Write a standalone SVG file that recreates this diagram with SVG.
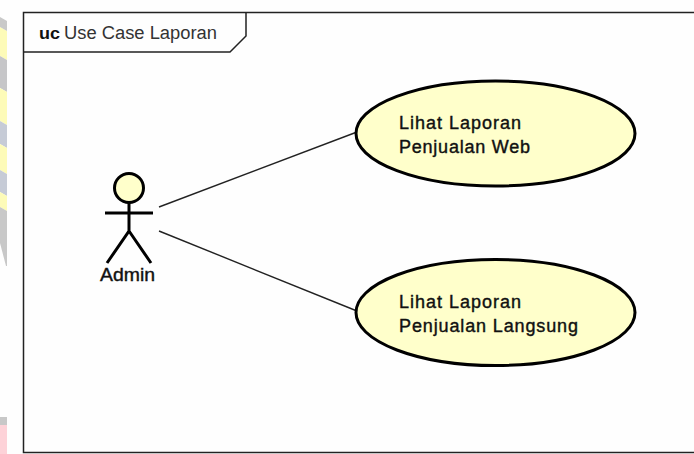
<svg xmlns="http://www.w3.org/2000/svg" width="694" height="454" viewBox="0 0 694 454">
<style>
.t{font-family:"Liberation Sans",Arial,sans-serif;font-size:18px;fill:#111;stroke:#111;stroke-width:.4px}
.n{fill:#ffffcb;stroke:#000;stroke-width:3}
.s{fill:none;stroke:#000;stroke-width:3}
.c{fill:none;stroke:#222;stroke-width:1.4}
.f{fill:none;stroke:#222;stroke-width:1.5}
</style>
<rect width="694" height="454" fill="#fefefe"/>
<g id="watermark">
<polygon points="0,27 7,31 7,60 0,56" fill="#fdfbb8"/>
<polygon points="0,17 7,21 7,31 0,27" fill="#c9c9c9"/>
<polygon points="0,56 7,60 7,92 0,88" fill="#c6c6c8"/>
<polygon points="0,88 7,92 7,125 0,121" fill="#fdfbb8"/>
<polygon points="0,121 7,125 7,148 0,144" fill="#c6cbd6"/>
<polygon points="0,144 7,148 7,174 0,170" fill="#fdfbb8"/>
<polygon points="0,170 7,174 7,196 0,192" fill="#c6cbd6"/>
<polygon points="0,192 7,196 7,211 0,207" fill="#fdfbb8"/>
<polygon points="0,207 7,211 7,266 6,266 0,243" fill="#c8c8c8"/>
<rect x="0" y="425" width="7" height="29" fill="#fdd2d8"/>
<rect x="0" y="417" width="7" height="8" fill="#c8c8c8"/>
</g>
<g id="frame">
<path class="f" d="M694 12.5H23.5V452.5H694"/>
<path class="f" d="M23.5 52H230L246 36V12.5"/>
<text x="39" y="39" font-family="Liberation Sans, Arial, sans-serif" font-size="16" font-weight="bold" fill="#111" textLength="21" lengthAdjust="spacingAndGlyphs">uc</text>
<text x="64" y="39" font-family="Liberation Sans, Arial, sans-serif" font-size="18" fill="#333" textLength="153" lengthAdjust="spacingAndGlyphs">Use Case Laporan</text>
</g>
<g id="connectors">
<line class="c" x1="159" y1="207" x2="357" y2="132"/>
<line class="c" x1="159" y1="231" x2="357" y2="311"/>
</g>
<g id="actor-admin">
<circle class="n" cx="129" cy="188" r="14.5"/>
<path class="s" d="M105 213H153M129 203V231L107 263M129 231L151 263"/>
<text class="t" x="100" y="281" textLength="55" lengthAdjust="spacingAndGlyphs">Admin</text>
</g>
<g id="usecase-web">
<ellipse class="n" cx="495.5" cy="133.5" rx="139.5" ry="52.5"/>
<text class="t" x="399" y="129" textLength="122" lengthAdjust="spacing">Lihat Laporan</text>
<text class="t" x="399" y="153" textLength="131" lengthAdjust="spacing">Penjualan Web</text>
</g>
<g id="usecase-langsung">
<ellipse class="n" cx="495.5" cy="312.5" rx="139.5" ry="53"/>
<text class="t" x="399" y="308" textLength="122" lengthAdjust="spacing">Lihat Laporan</text>
<text class="t" x="399" y="332" textLength="179" lengthAdjust="spacing">Penjualan Langsung</text>
</g>
</svg>
